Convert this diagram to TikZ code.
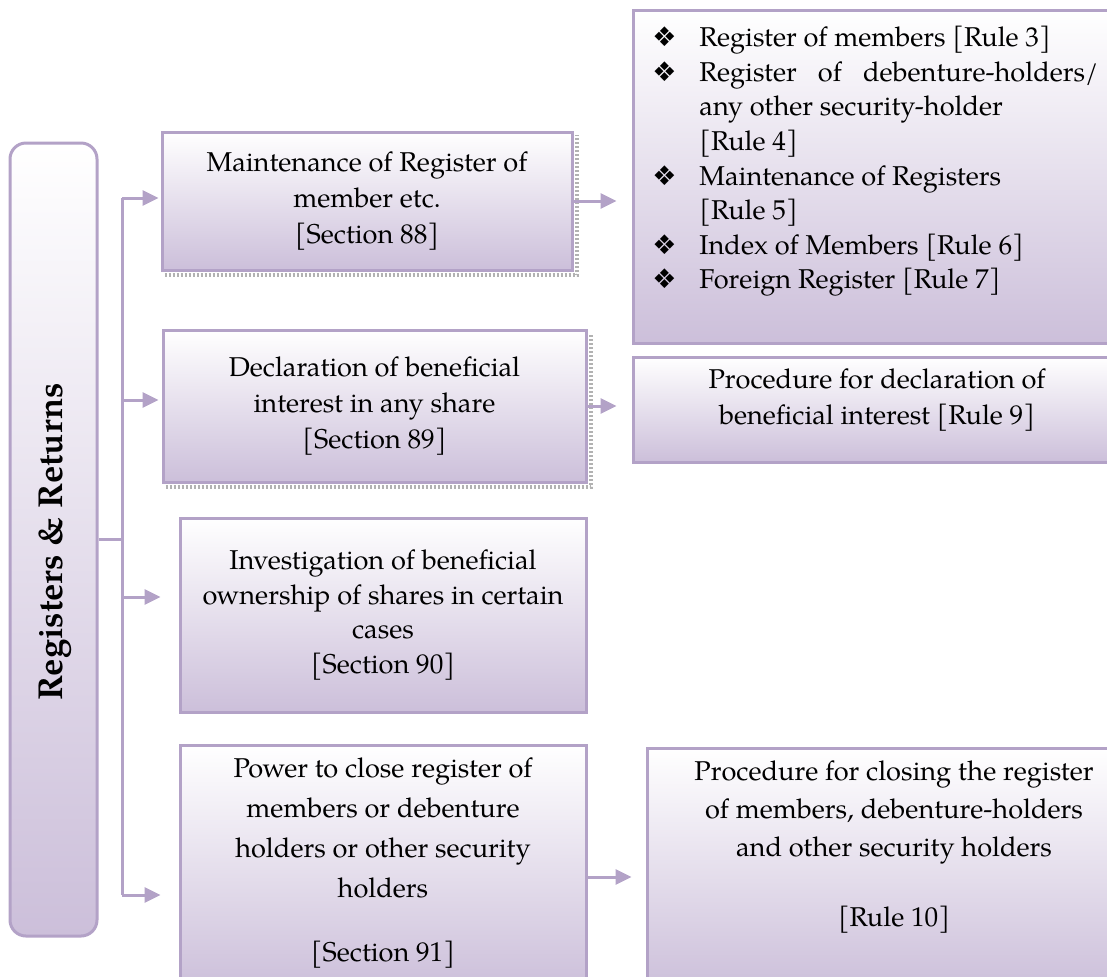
\documentclass[tikz,border=0pt]{standalone}
\usepackage{fontspec}
\setmainfont{TeX Gyre Pagella}
\newfontfamily\symfont{DejaVu Sans}
\usetikzlibrary{arrows.meta}
\definecolor{bord}{HTML}{B3A2C7}
\definecolor{boxfill}{HTML}{CCBFDA}
\newcommand\bodytext{\fontsize{13.6}{18}\selectfont}
\newcommand\itemmark{{\symfont\fontsize{13.5}{13.5}\selectfont ❖}}

\begin{document}
\begin{tikzpicture}[x=0.5pt,y=-0.5pt,
  box/.style={draw=bord, line width=1.5pt, top color=white, bottom color=boxfill,
              align=center, font=\bodytext, inner sep=0pt},
  side/.style={draw=bord, line width=1.5pt, rounded corners=8pt, top color=white,
               bottom color=boxfill, inner sep=0pt},
  txt/.style={align=center, font=\bodytext, inner sep=0pt},
  link/.style={draw=bord, line width=1.5pt},
  arr/.style={link, -{Triangle[length=8pt,width=7.5pt]}},
  boxshadow/.style={draw=black!30, line width=1.6pt, dash pattern=on 1pt off 1pt},
]
\useasboundingbox (0,0) rectangle (1107,976);

% left column
\node[side, minimum width=43.5pt, minimum height=396.5pt] (side) at (53.5,539.5) {};
\node[rotate=90, font=\fontsize{17.3}{17.3}\selectfont\bfseries, inner sep=0pt] (title) at (55,542) {Registers \& Returns};

% section boxes
\node[box, minimum width=205pt, minimum height=69pt] (b1) at (367,201)
  {Maintenance of Register of\\member etc.\\{[Section 88]}};
\node[box, minimum width=211.5pt, minimum height=76pt] (b2) at (374.5,406)
  {Declaration of beneficial\\interest in any share\\{[Section 89]}};
\node[box, minimum width=203pt, minimum height=97pt,
      font=\fontsize{13.6}{17.25}\selectfont] (b3) at (383,615)
  {Investigation of beneficial\\ownership of shares in certain\\cases\\{[Section 90]}};
\node[box, minimum width=203pt, minimum height=122.5pt] (b4) at (383,867.5) {};
\node[txt, anchor=north, font=\fontsize{13.6}{20}\selectfont] (b4t) at (383,757)
  {Power to close register of\\members or debenture\\holders or other security\\holders\\[12pt]{[Section 91]}};

% shadow strips along the lower and right edges
\draw[boxshadow] ([xshift=2pt,yshift=-1.75pt]b1.south west) -- ([xshift=1.75pt,yshift=-1.75pt]b1.south east)
                 -- ([xshift=1.75pt,yshift=-2pt]b1.north east);
\draw[boxshadow] ([xshift=2pt,yshift=-1.75pt]b2.south west) -- ([xshift=1.75pt,yshift=-1.75pt]b2.south east)
                 -- ([xshift=1.75pt,yshift=-2pt]b2.north east);

% rule boxes
\node[box, minimum width=241pt, minimum height=166.5pt] (r1) at (874,176.5) {};
\node[anchor=north west, inner sep=0pt, font=\fontsize{13.6}{17.3}\selectfont] (rlist) at (652,22)
  {\begin{tabular}{@{}p{23.5pt}@{}l@{}}
   \itemmark & Register of members [Rule 3]\\
   \itemmark & \makebox[199.5pt][s]{Register of debenture-holders/}\\
             & any other security-holder\\
             & [Rule 4]\\
   \itemmark & Maintenance of Registers\\
             & [Rule 5]\\
   \itemmark & Index of Members [Rule 6]\\
   \itemmark & Foreign Register [Rule 7]
   \end{tabular}};

\node[box, minimum width=241pt, minimum height=52.5pt] (r9) at (874,409.5) {};
\node[txt] (r9t) at (877,400) {Procedure for declaration of\\beneficial interest [Rule 9]};

\node[box, minimum width=234pt, minimum height=121pt] (r10) at (881,869) {};
\node[txt, anchor=north, font=\fontsize{13.6}{19}\selectfont] (r10t) at (894,760)
  {Procedure for closing the register\\of members, debenture-holders\\and other security holders\\[16pt]{[Rule 10]}};

% trunk and branches
\coordinate (t1) at (122,198);
\coordinate (t2) at (122,400);
\coordinate (t3) at (122,597);
\coordinate (t4) at (122,895);
\draw[link] (side.east) -- (side.east -| t1);
\draw[link] (t1) -- (t4);
\draw[arr, shorten >=1pt] (t1) -- (t1 -| b1.west);
\draw[arr, shorten >=1.5pt] (t2) -- (t2 -| b2.west);
\draw[arr, shorten >=9pt] (t3) -- (t3 -| b3.west);
\draw[arr, shorten >=9pt] (t4) -- (t4 -| b4.west);

% links to the rules
\draw[arr, shorten >=7.5pt] (b1.east) -- (b1.east -| r1.west);
\draw[arr, shorten >=7.5pt] (b2.east) -- (b2.east -| r9.west);
\draw[arr, shorten >=7pt] ([yshift=-4.75pt]b4.east) -- ([yshift=-4.75pt]b4.east -| r10.west);
\end{tikzpicture}
\end{document}
